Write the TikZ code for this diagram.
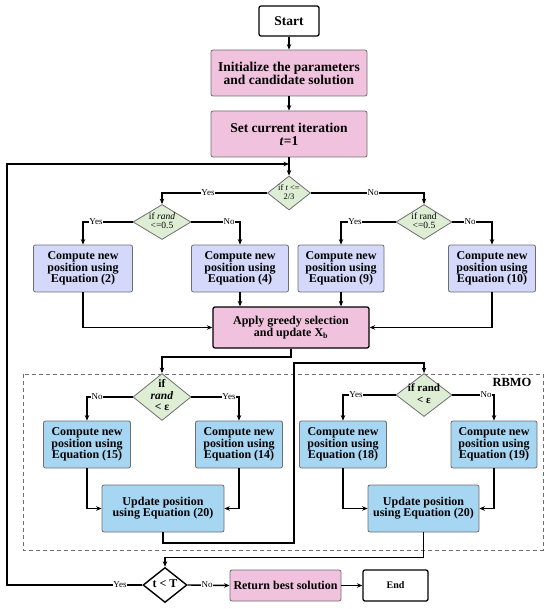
\documentclass[tikz,border=0pt]{standalone}
\usepackage{fontspec}
\setmainfont{Liberation Serif}
\usetikzlibrary{shapes.geometric,arrows.meta}
\definecolor{pinkc}{RGB}{240,194,222}
\definecolor{lavc}{RGB}{212,216,250}
\definecolor{bluec}{RGB}{166,214,242}
\definecolor{greenc}{RGB}{222,238,212}
\definecolor{edgec}{RGB}{110,110,110}
\newcommand{\dtext}[1]{\smash{\makebox[0pt]{\raisebox{-0.25em}{\begin{tabular}{@{}c@{}}#1\end{tabular}}}}}
\tikzset{
  box/.style={draw=edgec, line width=0.8pt, rounded corners=2pt, align=center, inner sep=1pt,
    font=\fontsize{12}{11.3}\selectfont\bfseries},
  pinkbox/.style={box, fill=pinkc},
  lavbox/.style={box, fill=lavc, minimum height=47pt},
  bluebox/.style={box, fill=bluec, minimum height=47pt},
  blackbox/.style={box, draw=black, line width=1.3pt, fill=white},
  dia/.style={diamond, draw=edgec, fill=greenc, line width=0.8pt, inner sep=0pt},
  conn/.style={line width=1.4pt, -{Stealth[length=5.5pt,width=4.5pt]}},
  lab/.style={fill=white, inner sep=0.6pt, font=\fontsize{9}{9}\selectfont}
}
\begin{document}
\begin{tikzpicture}[x=1pt,y=-1pt]
\useasboundingbox (0,0) rectangle (550,609);
% RBMO dashed frame
\draw[edgec, line width=0.6pt, dash pattern=on 4pt off 3pt] (23,374) rectangle (543,550);
\node[font=\fontsize{12.5}{13}\selectfont\bfseries] (rbmo) at (512,382) {RBMO};

% top column
\node[blackbox, minimum width=60pt, minimum height=30pt, font=\fontsize{13.5}{13}\selectfont\bfseries] (start) at (289,21) {Start};
\node[pinkbox, minimum width=156pt, minimum height=46pt, font=\fontsize{13.5}{13}\selectfont\bfseries] (init) at (289,73) {Initialize the parameters\\and candidate solution};
\node[pinkbox, minimum width=156pt, minimum height=46pt, font=\fontsize{13.5}{13}\selectfont\bfseries] (iter) at (289,134) {Set current iteration\\\textit{t}=1};
\node[dia, minimum width=43pt, minimum height=34pt, font=\fontsize{8.5}{8.5}\selectfont] (d1) at (289,193) {\dtext{if \textit{t} <=\\2/3}};

% second level diamonds
\node[dia, minimum width=58pt, minimum height=35pt, font=\fontsize{9.5}{9.5}\selectfont] (d2) at (162,222) {\dtext{if \textit{rand}\\<=0.5}};
\node[dia, minimum width=56pt, minimum height=35pt, font=\fontsize{9.5}{9.5}\selectfont] (d3) at (424,222) {\dtext{if rand\\<=0.5}};

% compute boxes row 1
\node[lavbox, minimum width=99pt] (eq2) at (83,268.5) {Compute new\\position using\\Equation (2)};
\node[lavbox, minimum width=97pt] (eq4) at (240,268.5) {Compute new\\position using\\Equation (4)};
\node[lavbox, minimum width=86pt] (eq9) at (341,268.5) {Compute new\\position using\\Equation (9)};
\node[lavbox, minimum width=87pt] (eq10) at (492,268.5) {Compute new\\position using\\Equation (10)};

% greedy
\node[pinkbox, draw=black, line width=1.3pt, minimum width=156pt, minimum height=41pt, font=\fontsize{12}{12}\selectfont\bfseries] (greedy) at (291,327.5) {Apply greedy selection\\and update X\textsubscript{b}};

% RBMO diamonds
\node[dia, minimum width=58pt, minimum height=47pt, font=\fontsize{11.5}{11.5}\selectfont\bfseries] (d4) at (162,397) {\dtext{if\\\textit{rand}\\< ε}};
\node[dia, minimum width=56pt, minimum height=43pt, font=\fontsize{11}{11.5}\selectfont\bfseries] (d5) at (424,395) {\dtext{if rand\\< ε}};

% RBMO compute boxes
\node[bluebox, minimum width=87pt] (eq15) at (87,444.5) {Compute new\\position using\\Equation (15)};
\node[bluebox, minimum width=87pt] (eq14) at (239,444.5) {Compute new\\position using\\Equation (14)};
\node[bluebox, minimum width=87pt] (eq18) at (343,444.5) {Compute new\\position using\\Equation (18)};
\node[bluebox, minimum width=86pt] (eq19) at (494,444.5) {Compute new\\position using\\Equation (19)};

\node[bluebox, minimum width=122pt] (up1) at (163,508.5) {Update position\\using Equation (20)};
\node[bluebox, minimum width=111pt] (up2) at (423.5,508.5) {Update position\\using Equation (20)};

% bottom row
\node[diamond, draw=black, fill=white, line width=1.4pt, inner sep=0pt, minimum width=44pt, minimum height=35pt, font=\fontsize{12}{12}\selectfont\bfseries] (tT) at (165,585) {\dtext{t < T}};
\node[pinkbox, minimum width=111pt, minimum height=31pt, font=\fontsize{12}{12}\selectfont\bfseries] (ret) at (285.5,585.5) {Return best solution};
\node[blackbox, minimum width=65pt, minimum height=31pt, font=\fontsize{10}{10}\selectfont\bfseries] (endn) at (395.5,585.5) {End};

% helper coordinates
\coordinate (jx) at (294,543);
\coordinate (jy) at (294,363);
\coordinate (lp1) at (7,585);
\coordinate (lp2) at (7,164);
\coordinate (lp3) at (289,164);

% connectors
\draw[conn] (start) -- (init);
\draw[conn] (init) -- (iter);
\draw[conn] (iter) -- (d1);
\draw[conn] (d1.west) -| (d2.north);
\draw[conn] (d1.east) -| (d3.north);
\draw[conn] (d2.west) -| (eq2.north);
\draw[conn] (d2.east) -| (eq4.north);
\draw[conn] (d3.west) -| (eq9.north);
\draw[conn] (d3.east) -| (eq10.north);
\draw[conn] (eq2.south) |- (greedy.west);
\draw[conn] (eq4.south) -- (eq4.south |- greedy.north);
\draw[conn] (eq9.south) -- (eq9.south |- greedy.north);
\draw[conn] (eq10.south) |- (greedy.east);
\draw[conn] (greedy.south) -- ++(0,8.5) -| (d4.north);
\draw[conn] (d4.west) -| (eq15.north);
\draw[conn] (d4.east) -| (eq14.north);
\draw[conn] (eq15.south) |- (up1.west);
\draw[conn] (eq14.south) |- (up1.east);
\draw[conn] (up1.south) |- (jx) -- (jy) -| (d5.north);
\draw[conn] (d5.west) -| (eq18.north);
\draw[conn] (d5.east) -| (eq19.north);
\draw[conn] (eq18.south) |- (up2.west);
\draw[conn] (eq19.south) |- (up2.east);
\draw[conn] (up2.south) -- ++(0,25) -| (tT.north);
\draw[conn] (tT.east) -- (ret.west);
\draw[conn] (ret.east) -- (endn.west);
\draw[conn] (tT.west) -- (lp1) -- (lp2) -- (lp3);

% labels
\node[lab] (l1) at (208,193) {Yes};
\node[lab] (l2) at (373,193) {No};
\node[lab] (l3) at (96,222) {Yes};
\node[lab] (l4) at (229,222) {No};
\node[lab] (l5) at (355,222) {Yes};
\node[lab] (l6) at (470,222) {No};
\node[lab] (l7) at (97,397) {No};
\node[lab] (l8) at (229,397) {Yes};
\node[lab] (l9) at (356,395) {Yes};
\node[lab] (l10) at (486,395) {No};
\node[lab] (l11) at (120,585) {Yes};
\node[lab] (l12) at (207,585) {No};
\end{tikzpicture}
\end{document}
